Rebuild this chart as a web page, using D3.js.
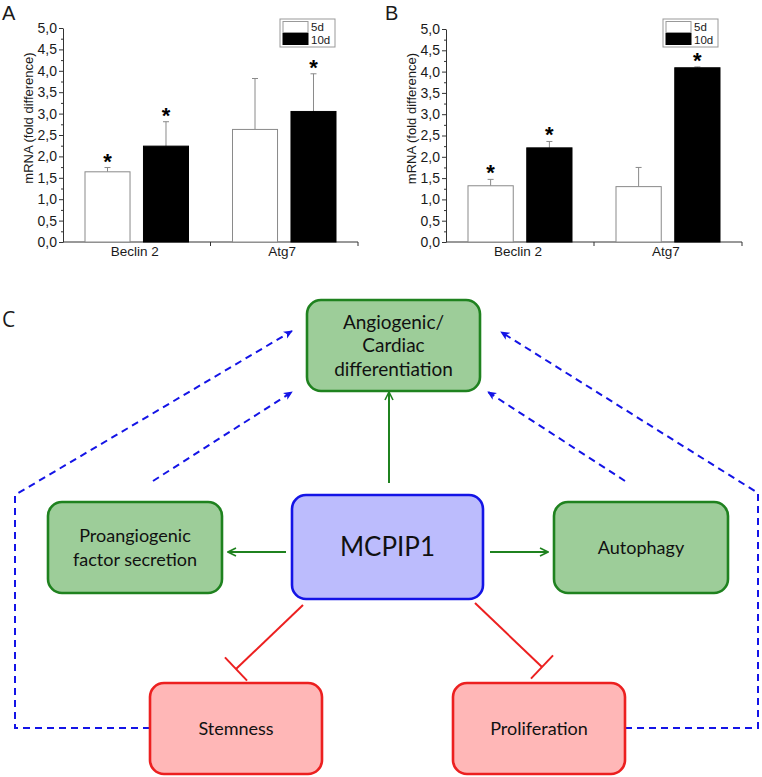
<!DOCTYPE html>
<html>
<head>
<meta charset="utf-8">
<script src="https://cdn.jsdelivr.net/npm/d3@7"></script>
<style>
  body { margin: 0; background: #fff; }
  svg { display: block; }
</style>
</head>
<body>
<div id="chart"></div>
<script>
// bar panels A and B
const genes = ["Beclin 2", "Atg7"];
const times = ["5d", "10d"];
const yTicks = [0, 0.5, 1, 1.5, 2, 2.5, 3, 3.5, 4, 4.5, 5];

const meanA = [[1.64, 2.24], [2.63, 3.05]];
const errA = [[0.10, 0.57], [1.19, 0.88]];
const starA = [[true, true], [false, true]];

const meanB = [[1.32, 2.21], [1.30, 4.09]];
const errB = [[0.15, 0.15], [0.45, 0.02]];
const starB = [[true, true], [false, true]];

// diagram nodes
const nodeLabels = {
  angio: ["Angiogenic/", "Cardiac", "differentiation"],
  proang: ["Proangiogenic", "factor secretion"],
  mcpip: ["MCPIP1"],
  autoph: ["Autophagy"],
  stem: ["Stemness"],
  prolif: ["Proliferation"],
};

const W = 762, H = 777;
const svg = d3.select("#chart").append("svg").attr("width", W).attr("height", H);
svg.append("rect").attr("width", W).attr("height", H).attr("fill", "#fff");

const FONT = '"Liberation Sans", Arial, sans-serif';

function barPanel(opts) {
  const { left, right, top, bottom, mean, err, star, letter, legendX } = opts;
  const g = svg.append("g");
  const x0 = d3.scaleBand().domain(genes).range([left, right]);
  const x1 = d3.scaleBand().domain(times).range([22, x0.bandwidth() - 22]).paddingInner(0.23);
  const y = d3.scaleLinear().domain([0, 5]).range([bottom, top]);

  // minor ticks
  g.append("g")
    .attr("transform", `translate(${left},0)`)
    .call(d3.axisLeft(y).tickValues(d3.range(0.25, 5, 0.5)).tickSize(2).tickFormat(""))
    .call((a) => a.select(".domain").remove())
    .call((a) => a.selectAll("line").attr("stroke", "#333"));

  g.append("g")
    .attr("transform", `translate(${left},0)`)
    .call(d3.axisLeft(y).tickValues(yTicks).tickSize(4).tickSizeOuter(0).tickPadding(2)
      .tickFormat((d) => d3.format(".1f")(d).replace(".", ",")))
    .attr("font-family", FONT)
    .call((a) => a.select(".domain").attr("stroke", "#333"))
    .call((a) => a.selectAll("line").attr("stroke", "#333"))
    .call((a) => a.selectAll("text").attr("font-size", 14).attr("fill", "#1a1a1a"));

  // x axis
  g.append("line")
    .attr("x1", left).attr("x2", right)
    .attr("y1", bottom).attr("y2", bottom)
    .attr("stroke", "#333");
  g.append("line")
    .attr("x1", x0("Atg7")).attr("x2", x0("Atg7"))
    .attr("y1", bottom).attr("y2", bottom + 4)
    .attr("stroke", "#333");
  g.append("line")
    .attr("x1", right).attr("x2", right)
    .attr("y1", bottom).attr("y2", bottom + 4)
    .attr("stroke", "#333");

  g.selectAll(".cat")
    .data(genes)
    .join("text")
    .attr("x", (d) => x0(d) + x0.bandwidth() / 2 - 2)
    .attr("y", bottom + 14)
    .attr("text-anchor", "middle")
    .attr("font-family", FONT)
    .attr("font-size", 13.5)
    .attr("fill", "#1a1a1a")
    .text((d) => d);

  const rows = [];
  genes.forEach((gene, i) => {
    times.forEach((t, j) => {
      rows.push({ gene, t, v: mean[i][j], e: err[i][j], s: star[i][j] });
    });
  });

  const bars = g.selectAll(".bar").data(rows).join("g")
    .attr("transform", (d) => `translate(${x0(d.gene) + x1(d.t)},0)`);

  bars.append("line")
    .attr("x1", x1.bandwidth() / 2).attr("x2", x1.bandwidth() / 2)
    .attr("y1", (d) => y(d.v)).attr("y2", (d) => y(d.v + d.e))
    .attr("stroke", "#8a8a8a");
  bars.append("line")
    .attr("x1", x1.bandwidth() / 2 - 3).attr("x2", x1.bandwidth() / 2 + 3)
    .attr("y1", (d) => y(d.v + d.e)).attr("y2", (d) => y(d.v + d.e))
    .attr("stroke", "#8a8a8a");

  bars.append("rect")
    .attr("x", 0)
    .attr("width", x1.bandwidth())
    .attr("y", (d) => y(d.v))
    .attr("height", (d) => y(0) - y(d.v))
    .attr("fill", (d) => (d.t === "5d" ? "#fff" : "#000"))
    .attr("stroke", (d) => (d.t === "5d" ? "#8a8a8a" : "#000"));

  bars.filter((d) => d.s)
    .append("text")
    .attr("x", x1.bandwidth() / 2)
    .attr("y", (d) => y(d.v + d.e) + 1)
    .attr("text-anchor", "middle")
    .attr("font-family", FONT)
    .attr("font-weight", "bold")
    .attr("font-size", 22)
    .text("*");

  // y label
  g.append("text")
    .attr("transform", `translate(${left - 30},${(top + bottom) / 2 - 17}) rotate(-90)`)
    .attr("text-anchor", "middle")
    .attr("font-family", FONT)
    .attr("font-size", 13)
    .attr("fill", "#1a1a1a")
    .text("mRNA (fold difference)");

  g.append("text")
    .attr("x", left - 61).attr("y", 20)
    .attr("font-family", FONT)
    .attr("font-size", 20)
    .attr("fill", "#1a1a1a")
    .text(letter);

  // legend
  const lg = g.append("g").attr("transform", `translate(${legendX},19)`);
  lg.append("rect").attr("width", 55).attr("height", 28).attr("fill", "#fff").attr("stroke", "#999");
  times.forEach((t, i) => {
    lg.append("rect")
      .attr("x", 3).attr("y", 2.5 + i * 12)
      .attr("width", 25).attr("height", 11)
      .attr("fill", i === 0 ? "#fff" : "#000")
      .attr("stroke", i === 0 ? "#999" : "#000");
    lg.append("text")
      .attr("x", 31).attr("y", 12 + i * 12.5)
      .attr("font-family", FONT)
      .attr("font-size", 11.5)
      .attr("fill", "#1a1a1a")
      .text(t);
  });
}

barPanel({ left: 63, right: 358, top: 28, bottom: 242, mean: meanA, err: errA, star: starA, letter: "A", legendX: 280 });
barPanel({ left: 446, right: 742, top: 29, bottom: 242, mean: meanB, err: errB, star: starB, letter: "B", legendX: 663 });

// ---- diagram C ----
const DFONT = 'Lato, "Open Sans", sans-serif';
const GREEN = { fill: "#9dcd99", stroke: "#1f821f" };
const BLUE = { fill: "#bcbcfd", stroke: "#1414e6" };
const RED = { fill: "#ffb7b7", stroke: "#ec2020" };

const nodes = [
  { id: "angio", x: 307, y: 300, w: 173, h: 91, c: GREEN, fs: 19 },
  { id: "proang", x: 48, y: 502, w: 174, h: 91, c: GREEN, fs: 18 },
  { id: "mcpip", x: 292, y: 495, w: 191, h: 104, c: BLUE, fs: 26 },
  { id: "autoph", x: 554, y: 502, w: 174, h: 91, c: GREEN, fs: 18 },
  { id: "stem", x: 150, y: 683, w: 172, h: 91, c: RED, fs: 18 },
  { id: "prolif", x: 453, y: 683, w: 172, h: 91, c: RED, fs: 18 },
];

const defs = svg.append("defs");
defs.append("marker")
  .attr("id", "blueHead")
  .attr("viewBox", "0 0 10 10")
  .attr("refX", 9).attr("refY", 5)
  .attr("markerUnits", "userSpaceOnUse")
  .attr("markerWidth", 9).attr("markerHeight", 9)
  .attr("orient", "auto")
  .append("path").attr("d", "M0,0.5 L10,5 L0,9.5 L2.5,5 z").attr("fill", "#1414e6");
defs.append("marker")
  .attr("id", "greenHead")
  .attr("viewBox", "0 0 10 10")
  .attr("refX", 9).attr("refY", 5)
  .attr("markerUnits", "userSpaceOnUse")
  .attr("markerWidth", 10).attr("markerHeight", 10)
  .attr("orient", "auto")
  .append("path").attr("d", "M1,1 L9,5 L1,9").attr("fill", "none")
  .attr("stroke", "#1f821f").attr("stroke-width", 1.6);

const line = d3.line();

// blue dashed feedback
const dashed = [
  [[150, 728], [15, 728], [15, 495], [292, 331]],
  [[153, 481], [292, 392]],
  [[625, 481], [488, 392]],
  [[625, 728], [758, 728], [758, 493], [501, 332]],
];
svg.append("g").selectAll("path").data(dashed).join("path")
  .attr("d", line)
  .attr("fill", "none")
  .attr("stroke", "#1414e6")
  .attr("stroke-width", 2)
  .attr("stroke-dasharray", "7,5")
  .attr("marker-end", "url(#blueHead)");

// green activation arrows
const green = [
  [[389, 483], [389, 392]],
  [[286, 552], [228, 552]],
  [[490, 552], [548, 552]],
];
svg.append("g").selectAll("path").data(green).join("path")
  .attr("d", line)
  .attr("fill", "none")
  .attr("stroke", "#1f821f")
  .attr("stroke-width", 2)
  .attr("marker-end", "url(#greenHead)");

// red inhibition
const red = [
  { from: [303, 605], to: [236, 669] },
  { from: [475, 603], to: [542, 667] },
];
const rg = svg.append("g").attr("stroke", "#ec2020").attr("stroke-width", 2).attr("fill", "none");
red.forEach((r) => {
  rg.append("path").attr("d", line([r.from, r.to]));
  const dx = r.to[0] - r.from[0], dy = r.to[1] - r.from[1];
  const len = Math.hypot(dx, dy);
  const px = -dy / len * 16, py = dx / len * 16;
  rg.append("path").attr("d", line([[r.to[0] - px, r.to[1] - py], [r.to[0] + px, r.to[1] + py]]));
});

const ng = svg.append("g").selectAll("g").data(nodes).join("g");
ng.append("rect")
  .attr("x", (d) => d.x).attr("y", (d) => d.y)
  .attr("width", (d) => d.w).attr("height", (d) => d.h)
  .attr("rx", 14).attr("ry", 14)
  .attr("fill", (d) => d.c.fill)
  .attr("stroke", (d) => d.c.stroke)
  .attr("stroke-width", 2.6);
ng.each(function (d) {
  const lines = nodeLabels[d.id];
  const lh = 23.5;
  const cy = d.y + d.h / 2;
  d3.select(this).selectAll("text").data(lines).join("text")
    .attr("x", d.x + d.w / 2)
    .attr("y", (t, i) => cy + (i - (lines.length - 1) / 2) * lh)
    .attr("dy", "0.35em")
    .attr("text-anchor", "middle")
    .attr("font-family", DFONT)
    .attr("font-size", d.fs)
    .attr("fill", "#111")
    .text((t) => t);
});

svg.append("text")
  .attr("x", 2).attr("y", 327)
  .attr("font-family", '"Open Sans", sans-serif')
  .attr("font-size", 21)
  .attr("fill", "#1a1a1a")
  .text("C");
</script>
</body>
</html>
